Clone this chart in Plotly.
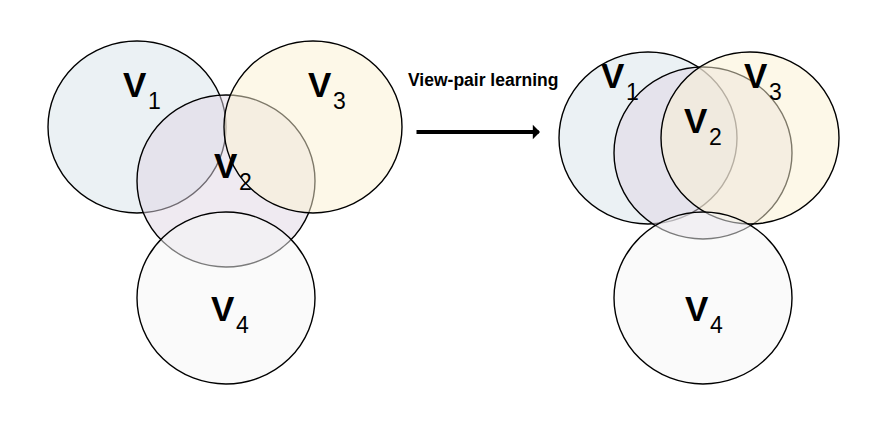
import plotly.graph_objects as go

# four views, drawn in this order (later ones sit on top)
views = ["1", "2", "3", "4"]
fills = ["rgba(215,227,233,0.5)", "rgba(223,213,227,0.5)",
         "rgba(251,241,209,0.5)", "rgba(246,246,246,0.5)"]

# before view-pair learning
left_cx = [137, 226, 313, 226]
left_cy = [127, 181, 127, 298]
left_lx = [135, 226, 320, 223]
left_ly = [84, 165, 84, 308]

# after view-pair learning
right_cx = [648, 703, 750, 703]
right_cy = [138, 153, 138, 298]
right_lx = [613, 696, 756, 697]
right_ly = [75, 120, 75, 308]

rx, ry = 89, 86
W, H = 888, 440
PAD = 8  # browser body margin

fig = go.Figure()
# invisible trace so the axes exist
fig.add_trace(go.Scatter(x=[PAD, W], y=[PAD, H], mode="markers",
                         marker=dict(opacity=0), hoverinfo="skip", showlegend=False))

for cxs, cys, lxs, lys in [(left_cx, left_cy, left_lx, left_ly),
                           (right_cx, right_cy, right_lx, right_ly)]:
    for v, f, cx, cy in zip(views, fills, cxs, cys):
        fig.add_shape(type="circle", xref="x", yref="y",
                      x0=cx - rx, x1=cx + rx, y0=cy - ry, y1=cy + ry,
                      fillcolor=f, line=dict(color="black", width=1.4), layer="above")
    for v, lx, ly in zip(views, lxs, lys):
        fig.add_annotation(x=lx, y=ly, text="<b>V</b>", showarrow=False,
                           xanchor="center", yanchor="middle",
                           font=dict(family="Liberation Sans, Arial", size=35, color="black"))
        fig.add_annotation(x=lx + 11, y=ly + 17, text=v, showarrow=False,
                           xanchor="left", yanchor="middle",
                           font=dict(family="Liberation Sans, Arial", size=23, color="black"))

fig.add_annotation(x=540, y=132, ax=415, ay=132, axref="x", ayref="y",
                   xref="x", yref="y", text="", showarrow=True,
                   arrowhead=1, arrowwidth=4, arrowsize=0.6, arrowcolor="black")
fig.add_annotation(x=483, y=80, text="<b>View-pair learning</b>", showarrow=False,
                   font=dict(family="Liberation Sans, Arial", size=17.5, color="black"))

fig.update_xaxes(range=[PAD, W], visible=False, fixedrange=True)
fig.update_yaxes(range=[H, PAD], visible=False, fixedrange=True)
fig.update_layout(width=W - PAD, height=H - PAD, margin=dict(l=0, r=0, t=0, b=0),
                  paper_bgcolor="white", plot_bgcolor="white", showlegend=False)

fig.write_html("out.html")
